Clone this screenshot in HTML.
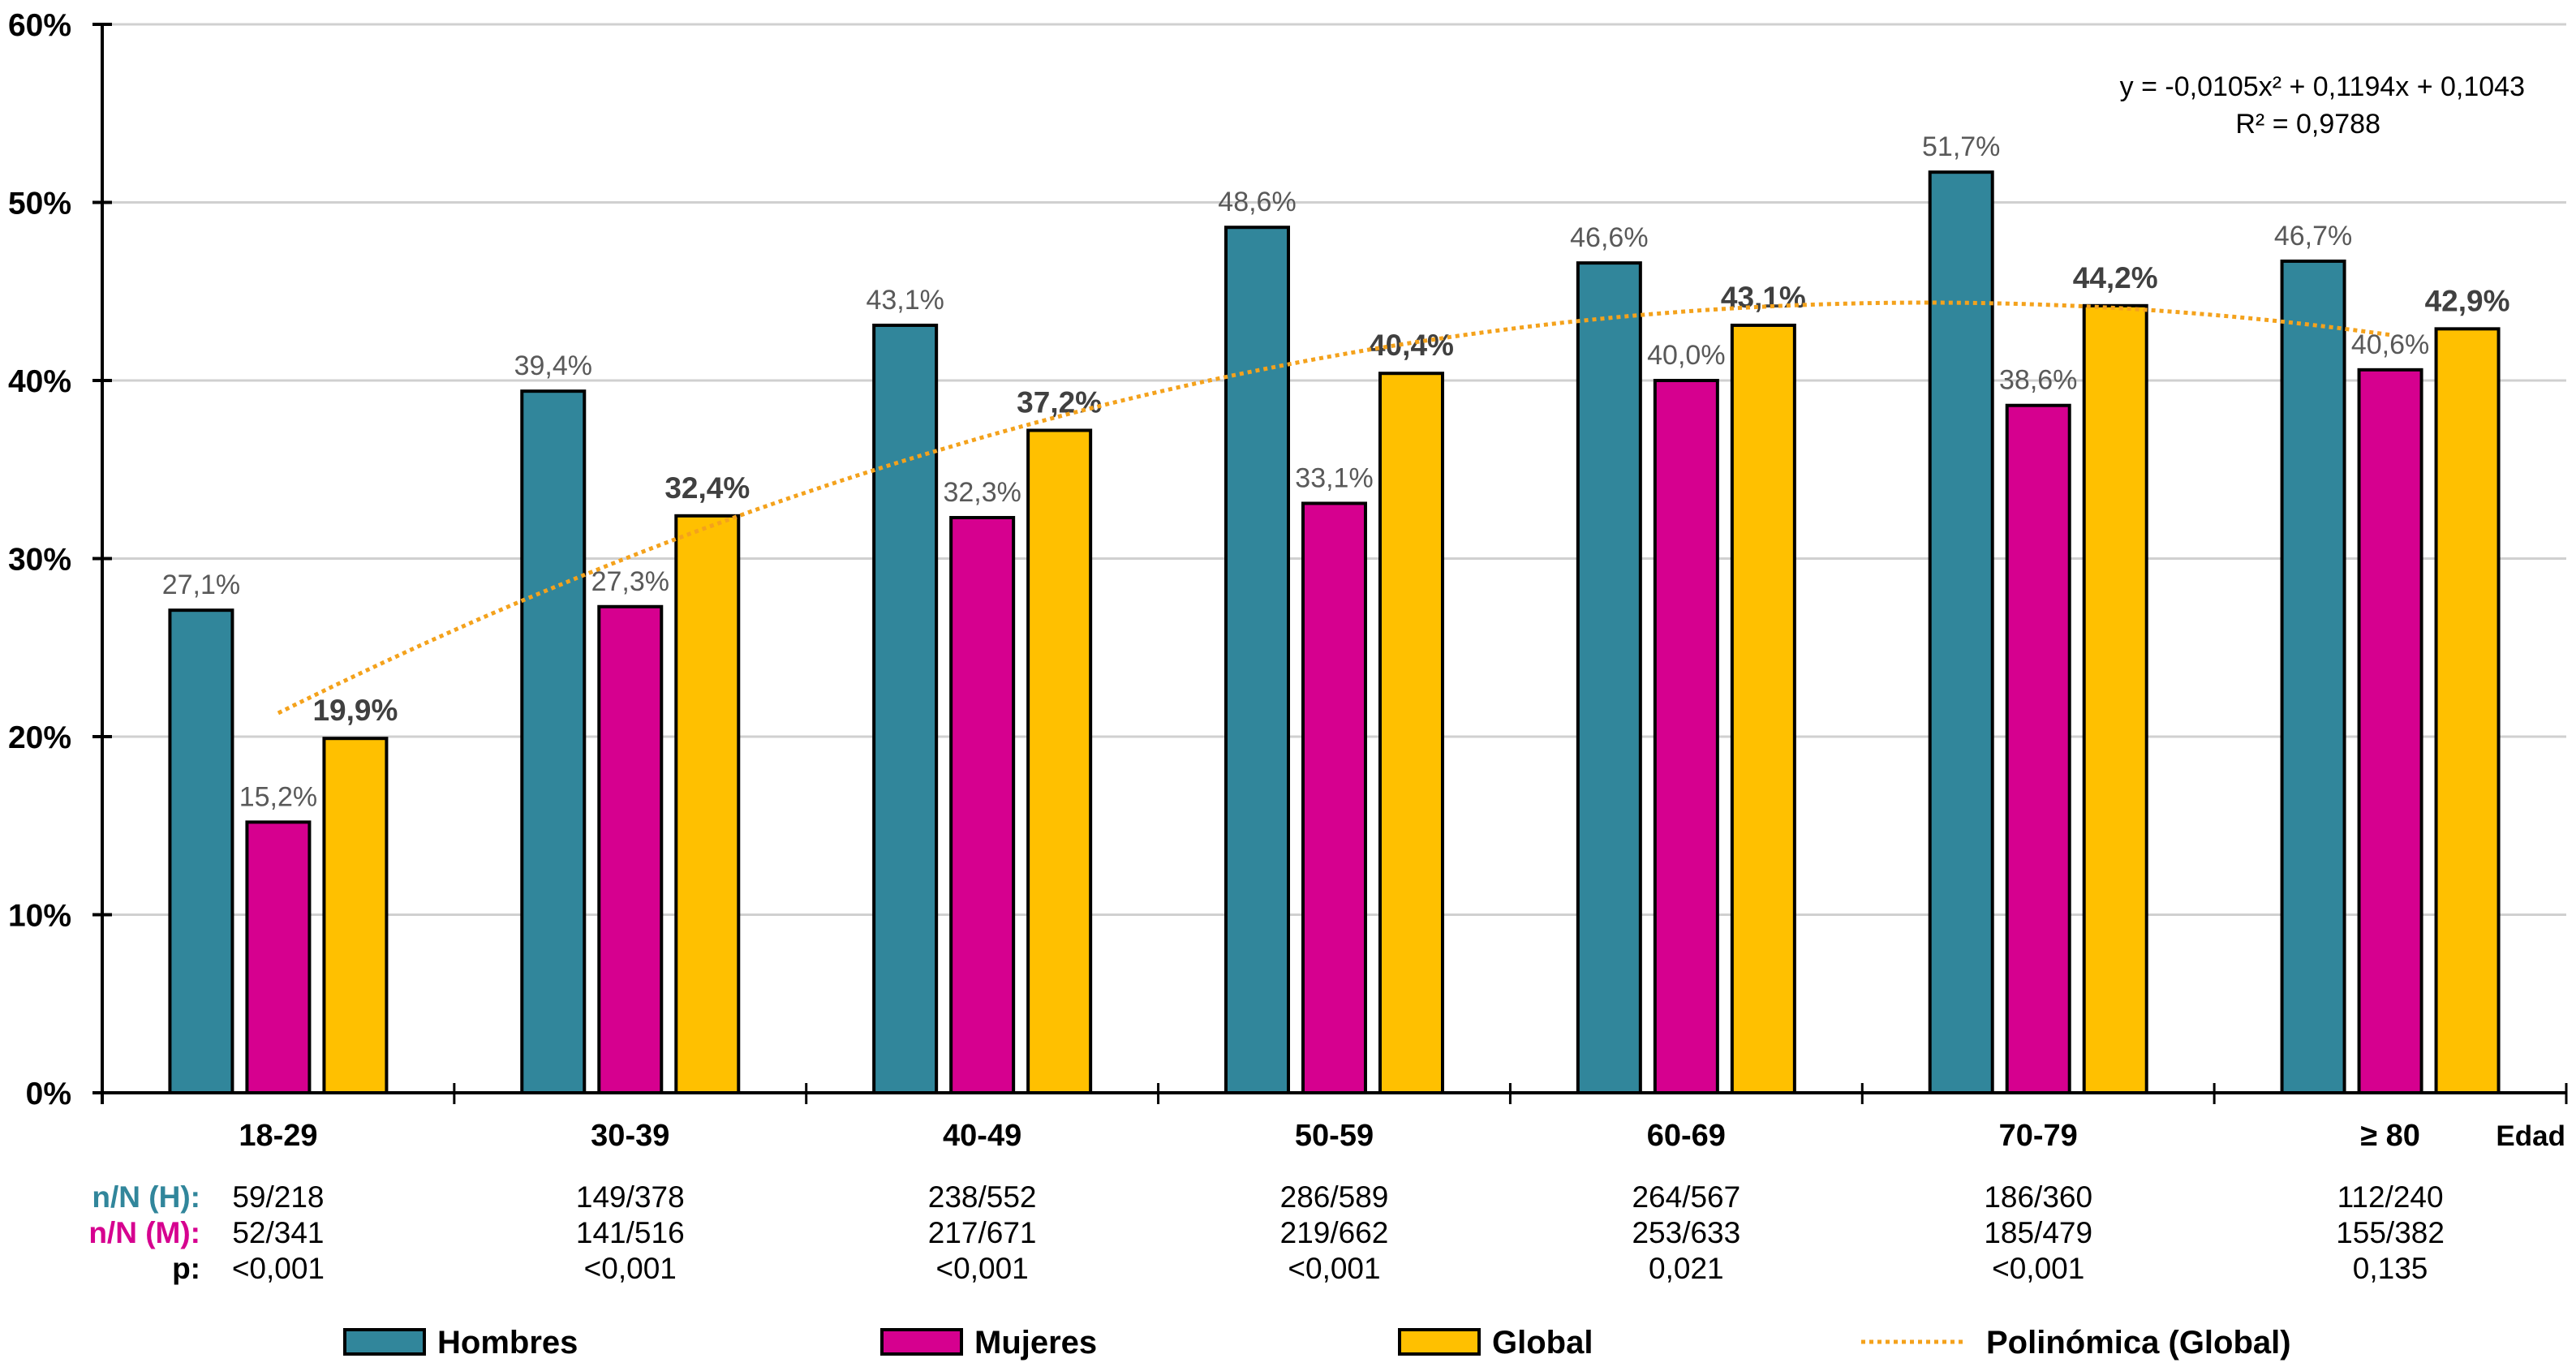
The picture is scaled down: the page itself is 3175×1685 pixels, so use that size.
<!DOCTYPE html>
<html><head><meta charset="utf-8"><style>
html,body{margin:0;padding:0;background:#fff;}
svg{display:block;font-family:"Liberation Sans",Arial,sans-serif;}
</style></head><body>
<svg id="chart" width="3175" height="1685" viewBox="0 0 3175 1685"></svg>
<script>
const categories=["18-29","30-39","40-49","50-59","60-69","70-79","≥ 80"];
const hombres=[27.1,39.4,43.1,48.6,46.6,51.7,46.7];
const mujeres=[15.2,27.3,32.3,33.1,40.0,38.6,40.6];
const globalv=[19.9,32.4,37.2,40.4,43.1,44.2,42.9];
const nH=["59/218","149/378","238/552","286/589","264/567","186/360","112/240"];
const nM=["52/341","141/516","217/671","219/662","253/633","185/479","155/382"];
const pv=["<0,001","<0,001","<0,001","<0,001","0,021","<0,001","0,135"];
const yTicks=[0,10,20,30,40,50,60];
const trend=[-0.0105,0.1194,0.1043];

const NS="http://www.w3.org/2000/svg";
const svg=document.getElementById('chart');
const X0=126,X1=3163,Y0=1347,Y60=30;
const cw=(X1-X0)/categories.length;
const y=v=>Y0-(v/60)*(Y0-Y60);
const cx=i=>X0+cw*(i+0.5);
function mk(tag,attrs,txt){const e=document.createElementNS(NS,tag);for(const k in attrs)e.setAttribute(k,attrs[k]);if(txt!==undefined)e.textContent=txt;svg.appendChild(e);return e;}

yTicks.forEach(t=>{
  if(t>0){const g=mk('line',{x1:X0,x2:X1,y1:y(t),y2:y(t),stroke:'#d0d0d0','stroke-width':3});
  
  }
  const tk=mk('line',{x1:X0-12,x2:X0+12,y1:y(t),y2:y(t),stroke:'#000','stroke-width':4});
  
  
  const l=mk('text',{x:X0-38,y:y(t)+14,'text-anchor':'end','font-size':39,'font-weight':'bold',fill:'#000'},t+'%');
  
  
});
const ya=mk('line',{x1:X0,x2:X0,y1:Y60,y2:Y0+14,stroke:'#000','stroke-width':4});



const bw=77,off=95;
const series=[[hombres,'#31869B',-off,false,'hombres'],[mujeres,'#D6008F',0,false,'mujeres'],[globalv,'#FFC000',off,true,'global']];
categories.forEach((c,i)=>{
  series.forEach(s=>{
    const v=s[0][i],bx=cx(i)+s[2]-bw/2;
    const r=mk('rect',{x:bx,y:y(v),width:bw,height:Y0-y(v),fill:s[1],stroke:'#000','stroke-width':4});
    
    
    const t=mk('text',{x:cx(i)+s[2],y:y(v)-(s[3]?22:20),'text-anchor':'middle','font-size':s[3]?37:34,'font-weight':s[3]?'bold':'normal',fill:s[3]?'#404040':'#595959'},v.toFixed(1).replace('.',',')+'%');
    
    
  });
  const cl=mk('text',{x:cx(i),y:1412,'text-anchor':'middle','font-size':38,'font-weight':'bold',fill:'#000'},c);
  
  
  const a=mk('text',{x:cx(i),y:1488,'text-anchor':'middle','font-size':37,fill:'#000'},nH[i]);
  
  
  const b=mk('text',{x:cx(i),y:1532,'text-anchor':'middle','font-size':37,fill:'#000'},nM[i]);
  
  
  const p=mk('text',{x:cx(i),y:1576,'text-anchor':'middle','font-size':37,fill:'#000'},pv[i]);
  
  
});
const xa=mk('line',{x1:X0-12,x2:X1,y1:Y0,y2:Y0,stroke:'#000','stroke-width':4});


for(let i=0;i<=categories.length;i++){
  const t=mk('line',{x1:X0+cw*i,x2:X0+cw*i,y1:Y0-12,y2:Y0+14,stroke:'#000','stroke-width':3});
  
  
}
const ed=mk('text',{x:3162,y:1412,'text-anchor':'end','font-size':35,'font-weight':'bold',fill:'#000'},'Edad');



let d='';
for(let k=0;k<=120;k++){const xv=1+6*k/120;const v=(trend[0]*xv*xv+trend[1]*xv+trend[2])*100;
  const px=cx(0)+(xv-1)*cw;d+=(k?'L':'M')+px.toFixed(1)+' '+y(v).toFixed(1);}
const tl=mk('path',{d:d,fill:'none',stroke:'#F4A21C','stroke-width':5,'stroke-dasharray':'5 5'});



[['n/N (H):','#31869B',1488],['n/N (M):','#D6008F',1532],['p:','#000',1576]].forEach(r=>{
  const t=mk('text',{x:247,y:r[2],'text-anchor':'end','font-size':37,'font-weight':'bold',fill:r[1]},r[0]);
  
  
});

const e1=mk('text',{x:3112,y:118,'text-anchor':'end','font-size':34,fill:'#000'},'y = -0,0105x² + 0,1194x + 0,1043');


const e2=mk('text',{x:2934,y:164,'text-anchor':'end','font-size':34,fill:'#000'},'R² = 0,9788');



[['Hombres','#31869B',425],['Mujeres','#D6008F',1087],['Global','#FFC000',1725]].forEach(l=>{
  const r=mk('rect',{x:l[2],y:1639,width:98,height:30,fill:l[1],stroke:'#000','stroke-width':4});
  
  
  const t=mk('text',{x:l[2]+114,y:1668,'font-size':40,'font-weight':'bold',fill:'#000'},l[0]);
  
  
});
const ll=mk('line',{x1:2294,x2:2420,y1:1654,y2:1654,stroke:'#F4A21C','stroke-width':5,'stroke-dasharray':'5 5'});


const lt=mk('text',{x:2448,y:1668,'font-size':40,'font-weight':'bold',fill:'#000'},'Polinómica (Global)');


</script>
</body></html>
